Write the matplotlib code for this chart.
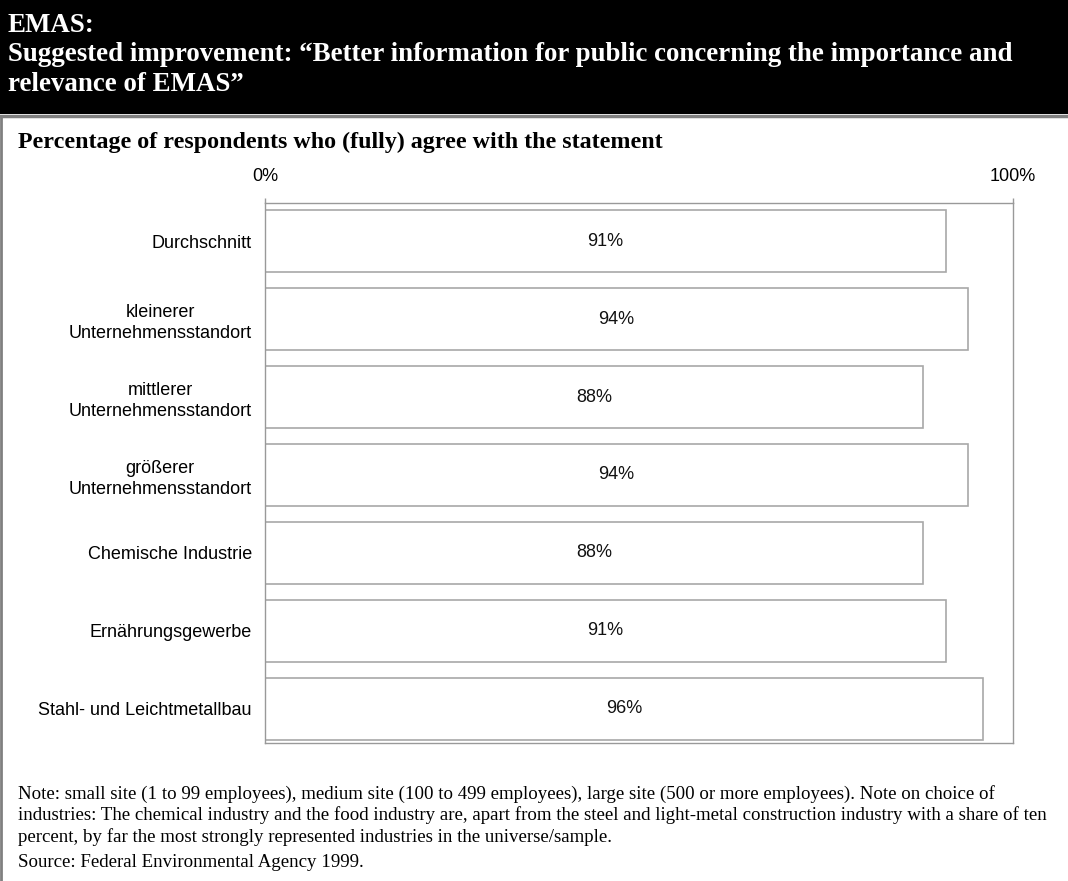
import matplotlib
matplotlib.use("Agg")
import matplotlib.pyplot as plt
from matplotlib.patches import Rectangle
from matplotlib.lines import Line2D

categories = [
    "Durchschnitt",
    "kleinerer\nUnternehmensstandort",
    "mittlerer\nUnternehmensstandort",
    "größerer\nUnternehmensstandort",
    "Chemische Industrie",
    "Ernährungsgewerbe",
    "Stahl- und Leichtmetallbau",
]
agree_pct = [91, 94, 88, 94, 88, 91, 96]
axis_ticks = [0, 100]
axis_labels = ["0%", "100%"]

title_lines = (
    "EMAS:\n"
    "Suggested improvement: \u201cBetter information for public concerning the importance and\n"
    "relevance of EMAS\u201d"
)
subtitle = "Percentage of respondents who (fully) agree with the statement"
note = (
    "Note: small site (1 to 99 employees), medium site (100 to 499 employees), large site (500 or more employees). Note on choice of\n"
    "industries: The chemical industry and the food industry are, apart from the steel and light-metal construction industry with a share of ten\n"
    "percent, by far the most strongly represented industries in the universe/sample."
)
source = "Source: Federal Environmental Agency 1999."

W, H = 1068, 881
fig = plt.figure(figsize=(W / 100, H / 100), dpi=100)


def fx(px):
    return px / W


def fy(py):
    return 1 - py / H


# black header band with grey rule underneath, grey left border
fig.patches.append(Rectangle((0, fy(114)), 1, 114 / H, transform=fig.transFigure,
                             facecolor="black", edgecolor="none", zorder=0))
fig.lines.append(Line2D([0, 1], [fy(115.5), fy(115.5)], transform=fig.transFigure,
                        color="#808080", lw=2.5))
fig.lines.append(Line2D([fx(1), fx(1)], [fy(116), 0], transform=fig.transFigure,
                        color="#808080", lw=2))

fig.text(fx(8), fy(13), title_lines, color="white", fontsize=19.4, fontweight="bold",
         family="Liberation Serif", va="top", ha="left", linespacing=1.23)
fig.text(fx(18), fy(142), subtitle, fontsize=17.3, fontweight="bold",
         family="Liberation Serif", va="center", ha="left")

ax = fig.add_axes([fx(265), fy(743), fx(1013) - fx(265), (743 - 203) / H])
y = list(range(len(categories)))
ax.barh(y, agree_pct, height=0.8, color="white", edgecolor="#a8a8a8", linewidth=1.2)
for yi, v in zip(y, agree_pct):
    ax.text(v / 2, yi, f"{v}%", ha="center", va="center", fontsize=13,
            family="Liberation Sans", color="#111111")

ax.set_xlim(0, 100)
ax.set_ylim(6.44, -0.49)
ax.xaxis.tick_top()
ax.set_xticks(axis_ticks)
ax.set_xticklabels(axis_labels, family="Liberation Sans", fontsize=13)
ax.tick_params(axis="x", length=3.5, width=1, color="#999999", pad=9.5)
ax.set_yticks(y)
ax.set_yticklabels(categories, family="Liberation Sans", fontsize=13, ha="right",
                   multialignment="center", linespacing=1.3)
ax.tick_params(axis="y", length=0, pad=9.5)
for sp in ax.spines.values():
    sp.set_color("#999999")
    sp.set_linewidth(1)

fig.text(fx(18), fy(785), note, fontsize=13.6, family="Liberation Serif",
         va="top", ha="left", linespacing=1.26)
fig.text(fx(18), fy(854), source, fontsize=13.6, family="Liberation Serif",
         va="top", ha="left")

fig.savefig("out.png", dpi=100, facecolor="white")
